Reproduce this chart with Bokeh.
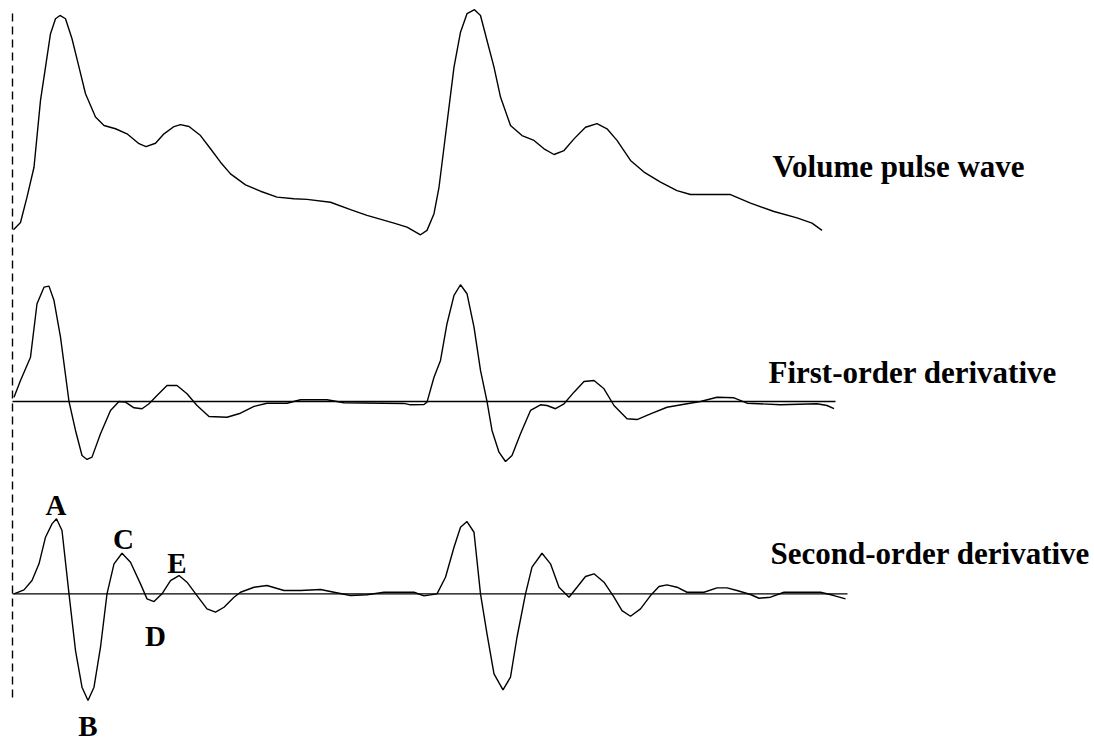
from bokeh.plotting import figure
from bokeh.models import Range1d, Label
from bokeh.embed import file_html
from bokeh.resources import INLINE

# time in ms (t = 0 at the onset marked by the dashed line)
t_vol = [2, 16, 29, 43, 56, 66, 76, 86, 95, 106, 119, 133, 146, 166, 183, 206, 229, 253, 267, 286,
         303, 323, 336, 353, 376, 396, 416, 436, 466, 496, 529, 563, 589, 636, 676, 709, 763, 789,
         816, 829, 843, 853, 863, 873, 883, 896, 909, 924, 936, 949, 963, 976, 996, 1019, 1043,
         1063, 1083, 1103, 1123, 1146, 1169, 1189, 1209, 1236, 1263, 1296, 1329, 1356, 1436, 1476,
         1523, 1569, 1599, 1619]
vol = [1.7, 5.0, 16.5, 30.1, 60.5, 75.6, 90.8, 97.6, 99.1, 97.6, 88.5, 75.6, 63.5, 52.9, 49.1, 47.6,
       45.3, 40.8, 39.5, 41.0, 45.3, 48.6, 49.5, 48.6, 44.5, 38.5, 32.4, 27.1, 22.1, 19.2, 16.5, 15.8,
       15.5, 14.2, 10.8, 8.2, 4.7, 2.9, -0.6, 1.4, 9.0, 21.0, 39.2, 57.4, 75.6, 91.5, 99.9, 101.7,
       99.1, 87.7, 75.6, 62.0, 49.1, 44.5, 42.3, 38.5, 35.9, 37.7, 43.0, 48.3, 49.9, 47.6, 42.3,
       33.2, 27.9, 23.3, 19.5, 17.7, 17.7, 13.8, 10.0, 7.1, 4.7, 1.4]

t_d1 = [3, 16, 36, 49, 63, 73, 83, 96, 113, 126, 139, 149, 159, 176, 196, 213, 226, 243, 259, 273,
        289, 309, 329, 349, 369, 393, 429, 456, 483, 509, 549, 576, 629, 663, 783, 796, 823, 829,
        843, 856, 869, 883, 896, 909, 923, 936, 949, 959, 973, 986, 999, 1016, 1036, 1056, 1069,
        1086, 1103, 1123, 1143, 1163, 1183, 1203, 1229, 1249, 1276, 1309, 1349, 1376, 1409, 1443,
        1469, 1536, 1609, 1629, 1643]
d1 = [3.7, 18.3, 38.5, 85.0, 99.4, 100.3, 87.8, 55.9, 0.0, -25.2, -47.0, -50.4, -48.4, -28.1, -7.8,
      0.0, -0.6, -5.5, -6.3, -2.0, 5.2, 13.9, 13.9, 6.7, -3.5, -13.0, -13.7, -10.2, -4.3, -1.5, -1.5,
      1.5, 1.5, -1.1, -1.7, -2.9, -2.6, -0.6, 21.1, 35.7, 67.6, 92.2, 101.5, 93.7, 64.6, 27.0, 0.0,
      -25.2, -44.1, -52.2, -47.0, -28.1, -7.8, -2.9, -3.5, -6.3, -2.0, 8.1, 17.4, 18.3, 11.0, -3.5,
      -15.0, -15.7, -10.7, -5.0, -2.0, 0.0, 3.7, 3.2, -1.5, -2.9, -2.0, -3.5, -6.3]

t_d2 = [3, 23, 39, 53, 66, 79, 88, 99, 113, 126, 139, 151, 163, 176, 189, 203, 219, 236, 256, 269,
        283, 299, 316, 333, 349, 369, 389, 406, 423, 443, 456, 483, 509, 543, 576, 616, 643, 676,
        709, 743, 803, 823, 849, 866, 883, 896, 909, 923, 936, 949, 963, 981, 996, 1009, 1026,
        1039, 1059, 1076, 1093, 1113, 1129, 1146, 1163, 1183, 1203, 1219, 1236, 1256, 1276, 1293,
        1309, 1329, 1349, 1383, 1409, 1429, 1449, 1476, 1493, 1516, 1543, 1616, 1643, 1666]
d2 = [0.0, 5.3, 17.7, 40.0, 75.5, 93.3, 100.0, 84.4, 0.0, -75.6, -124.5, -142.3, -124.5, -71.2, 0.0,
      40.0, 54.1, 42.1, 13.3, -6.7, -10.3, 0.0, 17.7, 24.4, 15.5, -2.3, -20.0, -24.5, -17.9, -4.5,
      2.1, 8.8, 11.1, 4.4, 4.4, 5.7, 2.1, -2.3, -1.3, 2.1, 2.1, -2.7, 0.0, 22.1, 62.1, 88.8, 96.4,
      82.1, 0.0, -53.3, -106.7, -128.0, -111.2, -57.9, 0.0, 35.5, 54.1, 40.0, 8.8, -4.5, 8.8, 23.1,
      26.7, 15.5, -4.5, -22.3, -29.9, -20.0, -2.3, 9.7, 12.0, 8.8, 2.1, 2.1, 8.0, 8.0, 4.4, -0.9,
      -5.9, -4.5, 2.1, 2.1, -2.3, -6.7]

series_names = ["Volume pulse wave", "First-order derivative", "Second-order derivative"]
wave_letters = ["A", "B", "C", "D", "E"]

FONT = "Liberation Serif"

p = figure(width=1094, height=744, x_range=Range1d(-24, 2164), y_range=Range1d(0, 744),
           output_backend="svg", toolbar_location=None, min_border=0,
           x_axis_location=None, y_axis_location=None)
p.grid.visible = False
p.outline_line_color = None
p.background_fill_color = "white"
p.border_fill_color = "white"
p.extra_y_ranges = {
    "vol": Range1d(-232.3, 105.9),
    "d1": Range1d(-298.3, 348.7),
    "d2": Range1d(-200.9, 791.1),
}

# dashed onset marker
p.line([0, 0], [731, 42], line_color="black", line_width=1.4, line_dash="8 5")

# zero lines of the derivatives
p.line([0, t_d1[-1] + 3], [0, 0], y_range_name="d1", line_color="black", line_width=1.3)
p.line([0, t_d2[-1] + 4], [0, 0], y_range_name="d2", line_color="black", line_width=1.3)

# waveforms
p.line(t_vol, vol, y_range_name="vol", line_color="black", line_width=1.4)
p.line(t_d1, d1, y_range_name="d1", line_color="black", line_width=1.4)
p.line(t_d2, d2, y_range_name="d2", line_color="black", line_width=1.4)

def lab(x, y, text, rng, align="left", size="31px"):
    p.add_layout(Label(x=x, y=y, text=text, y_range_name=rng, text_font=FONT,
                       text_font_style="bold", text_font_size=size, text_color="black",
                       text_align=align, text_baseline="alphabetic"))

lab(1520, 30.5, series_names[0], "vol")
lab(1512, 25.2, series_names[1], "d1")
lab(1516, 53.7, series_names[2], "d2")

letter_pos = [(87, 119), (151, -176), (222, 73.7), (286, -55.7), (329, 40.8)]
for letter, (lx, ly) in zip(wave_letters, letter_pos):
    lab(lx, ly, letter, "d2", align="center", size="29px")

open("out.html", "w").write(file_html(p, INLINE))
